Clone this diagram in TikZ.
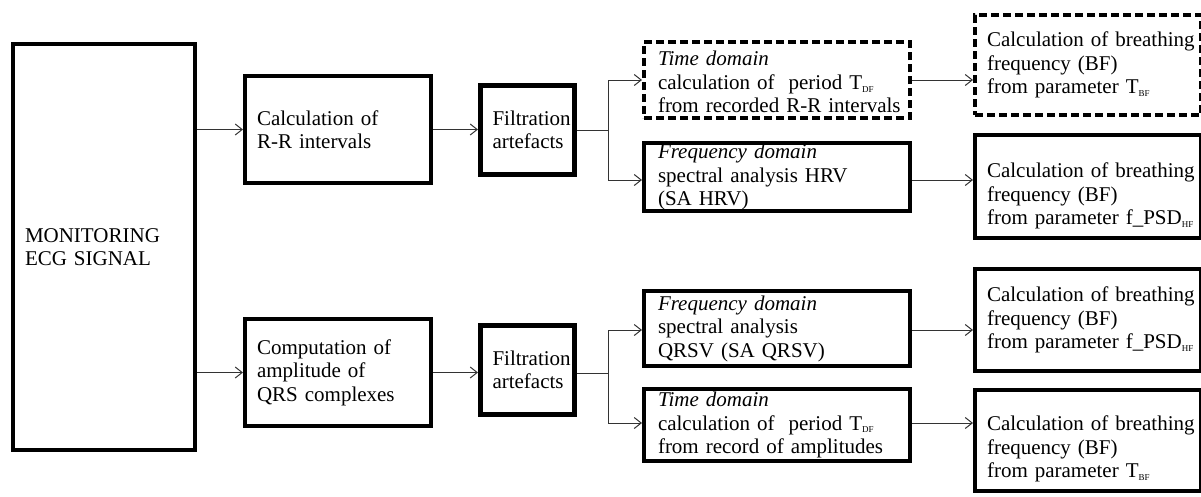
\documentclass[tikz,border=0pt]{standalone}
\usepackage{fontspec}
\setmainfont{Liberation Serif}
\usetikzlibrary{arrows.meta}
\newcommand\fs{\fontsize{21}{23.5}\selectfont}
\newcommand\sbx[1]{\raisebox{-0.3ex}{\fontsize{9}{9}\selectfont #1}}
\newcommand\lnx[1]{\mbox{#1}}
\newcommand\dn[1]{\rule{0pt}{#1}}
\begin{document}
\begin{tikzpicture}[x=1pt,y=-1pt,
  box/.style={draw, line width=4pt, inner xsep=12pt, inner ysep=0pt, align=left, font=\fs},
  dbox/.style={box, dash pattern=on 8pt off 4pt},
  sz/.style 2 args={minimum width=#1, minimum height=#2, text width=\dimexpr #1-24pt\relax},
  conn/.style={line width=1pt, draw=black!80, -{Straight Barb[length=7pt,width=11pt]}},
  line/.style={line width=1pt, draw=black!80}]
\useasboundingbox (0,0) rectangle (1201,496);
% left column
\node[box, sz={182pt}{406pt}] (ecg) at (104,247) {MONITORING\\ECG SIGNAL};
\node[box, sz={186pt}{107pt}] (rr) at (338,129.5) {Calculation of\\R-R intervals};
\node[box, sz={186pt}{107pt}] (qrs) at (338,372.5) {Computation of\\amplitude of\\QRS complexes};
\node[box, line width=5pt, sz={94pt}{89pt}] (f1) at (527.5,130) {\lnx{Filtration}\\artefacts};
\node[box, line width=5pt, sz={94pt}{89pt}] (f2) at (527.5,370) {\lnx{Filtration}\\artefacts};
% middle column
\node[dbox, inner xsep=14pt, sz={262pt}{76pt}] (td1) at (777,80)
  {\lnx{\dn{19pt}\textit{Time domain}}\\\lnx{calculation of~ period T\sbx{DF}}\\\lnx{from recorded R-R intervals}};
\node[box, inner xsep=14pt, sz={262pt}{68pt}] (fd1) at (777,177)
  {\lnx{\textit{Frequency domain}}\\\lnx{spectral analysis HRV}\\\lnx{(SA HRV)}};
\node[box, inner xsep=14pt, sz={262pt}{75pt}] (fd2) at (777,328.5)
  {\lnx{\textit{Frequency domain}}\\\lnx{spectral analysis}\\\lnx{QRSV (SA QRSV)}};
\node[box, inner xsep=14pt, sz={262pt}{72pt}] (td2) at (777,425)
  {\lnx{\textit{Time domain}}\\\lnx{calculation of~ period T\sbx{DF}}\\\lnx{from record of amplitudes}};
% right column
\node[dbox, sz={226pt}{100pt}] (bf1) at (1088,65)
  {\lnx{Calculation of breathing}\\\lnx{frequency (BF)}\\\lnx{from parameter T\sbx{BF}}};
\node[box, sz={226pt}{103pt}] (bf2) at (1088,186.5)
  {\lnx{\dn{34pt}Calculation of breathing}\\\lnx{frequency (BF)}\\\lnx{from parameter f\_PSD\sbx{HF}}};
\node[box, sz={226pt}{102pt}] (bf3) at (1088,320)
  {\lnx{Calculation of breathing}\\\lnx{frequency (BF)}\\\lnx{from parameter f\_PSD\sbx{HF}}};
\node[box, sz={226pt}{101pt}] (bf4) at (1088,440.5)
  {\lnx{\dn{32pt}Calculation of breathing}\\\lnx{frequency (BF)}\\\lnx{from parameter T\sbx{BF}}};
% connectors
\draw[conn] (ecg.east |- rr.west) -- (rr.west);
\draw[conn] (ecg.east |- qrs.west) -- (qrs.west);
\draw[conn] (rr.east) -- (f1.west |- rr.east);
\draw[conn] (qrs.east) -- (f2.west |- qrs.east);
\coordinate (b1) at (608,130);
\coordinate (b2) at (608,373);
\draw[line] (f1.east |- b1) -- (b1);
\draw[conn] (b1) |- (td1.west);
\draw[conn] (b1) |- ([yshift=-3pt]fd1.west);
\draw[line] (f2.east |- b2) -- (b2);
\draw[conn] (b2) |- ([yshift=-1.5pt]fd2.west);
\draw[conn] (b2) |- ([yshift=2pt]td2.west);
\draw[conn] (td1.east) -- (td1.east -| bf1.west);
\draw[conn] ([yshift=-3pt]fd1.east) -- ([yshift=-3pt]fd1.east -| bf2.west);
\draw[conn] ([yshift=-1.5pt]fd2.east) -- ([yshift=-1.5pt]fd2.east -| bf3.west);
\draw[conn] ([yshift=2pt]td2.east) -- ([yshift=2pt]td2.east -| bf4.west);
\end{tikzpicture}
\end{document}
